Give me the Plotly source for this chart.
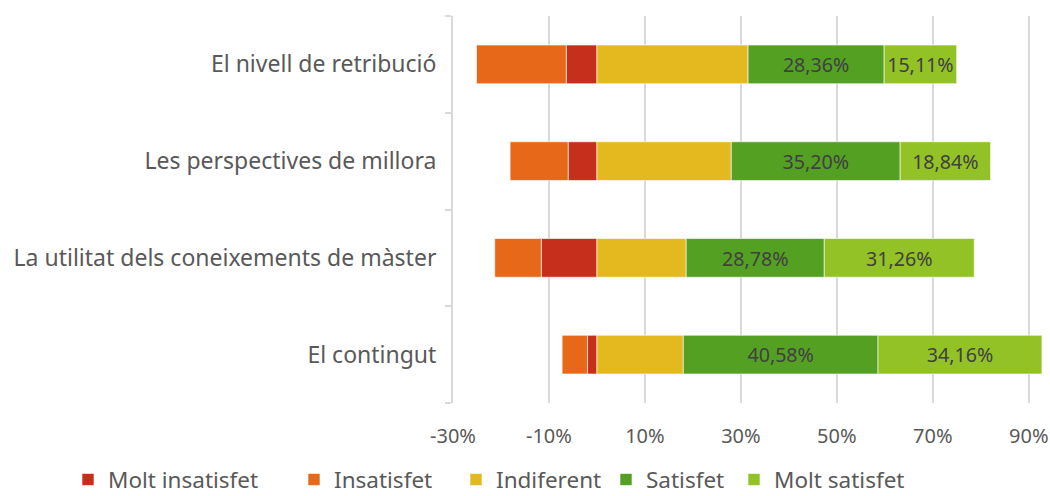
import plotly.graph_objects as go

categories = ["El nivell de retribució", "Les perspectives de millora",
              "La utilitat dels coneixements de màster", "El contingut"]
molt_insatisfet = [6.4, 6.0, 11.6, 1.96]
insatisfet = [18.7, 12.1, 9.7, 5.3]
indiferent = [31.5, 28.0, 18.6, 18.0]
satisfet = [28.36, 35.20, 28.78, 40.58]
molt_satisfet = [15.11, 18.84, 31.26, 34.16]
tick_vals = [-30, -10, 10, 30, 50, 70, 90]
tick_text = [f"{v}%" for v in tick_vals]

FONT = "Noto Sans"

series = [
    ("Molt insatisfet", [-v for v in molt_insatisfet], "#c62f1b", False),
    ("Insatisfet", [-v for v in insatisfet], "#e86819", False),
    ("Indiferent", indiferent, "#e4b920", False),
    ("Satisfet", satisfet, "#54a023", True),
    ("Molt satisfet", molt_satisfet, "#93c227", True),
]
legend_x_px = [68, 294, 456, 606, 734]

fig = go.Figure()
legend_layouts = {}
for i, (name, vals, color, lab) in enumerate(series):
    key = "legend" if i == 0 else f"legend{i+1}"
    fig.add_trace(go.Bar(
        y=categories, x=vals, name=name, orientation="h",
        legend=key,
        marker=dict(color=color, line=dict(color="rgba(255,255,255,0.6)", width=1)),
        texttemplate="%{x:.2f}%" if lab else None,
        textposition="inside" if lab else "none",
        insidetextanchor="middle",
        textfont=dict(color="#404040", size=23, family=FONT),
    ))
    legend_layouts[key] = dict(
        orientation="h", xref="container", x=legend_x_px[i] / 1050, xanchor="left",
        yref="paper", y=-0.143, yanchor="top",
        font=dict(size=22.5, color="#595959", family=FONT), itemwidth=30,
        bgcolor="rgba(0,0,0,0)")

fig.update_layout(
    barmode="relative",
    bargap=0.6,
    separators=",.",
    width=1050, height=496,
    margin=dict(l=453, r=3, t=16, b=93, autoexpand=False),
    plot_bgcolor="white", paper_bgcolor="white",
    font=dict(family=FONT, size=23, color="#595959"),
    uniformtext=dict(minsize=10, mode="show"),
    showlegend=True,
    **legend_layouts,
)
fig.update_xaxes(range=[-30, 93.8], tickvals=tick_vals, ticktext=tick_text,
                 tickfont=dict(size=20), ticklabeloverflow="allow",
                 showgrid=True, gridcolor="#d9d9d9", gridwidth=2, automargin=False,
                 zeroline=False, showline=False, ticks="", ticklabelstandoff=19)
fig.update_yaxes(categoryorder="array", categoryarray=categories[::-1], automargin=False,
                 showline=True, linecolor="#d9d9d9", linewidth=2,
                 ticks="outside", tickson="boundaries", ticklen=6, tickcolor="#d9d9d9",
                 tickwidth=2, showgrid=False, ticklabelstandoff=10)

fig.write_html("out.html", config={"displayModeBar": False},
               post_script="document.body.style.margin='0px';")
